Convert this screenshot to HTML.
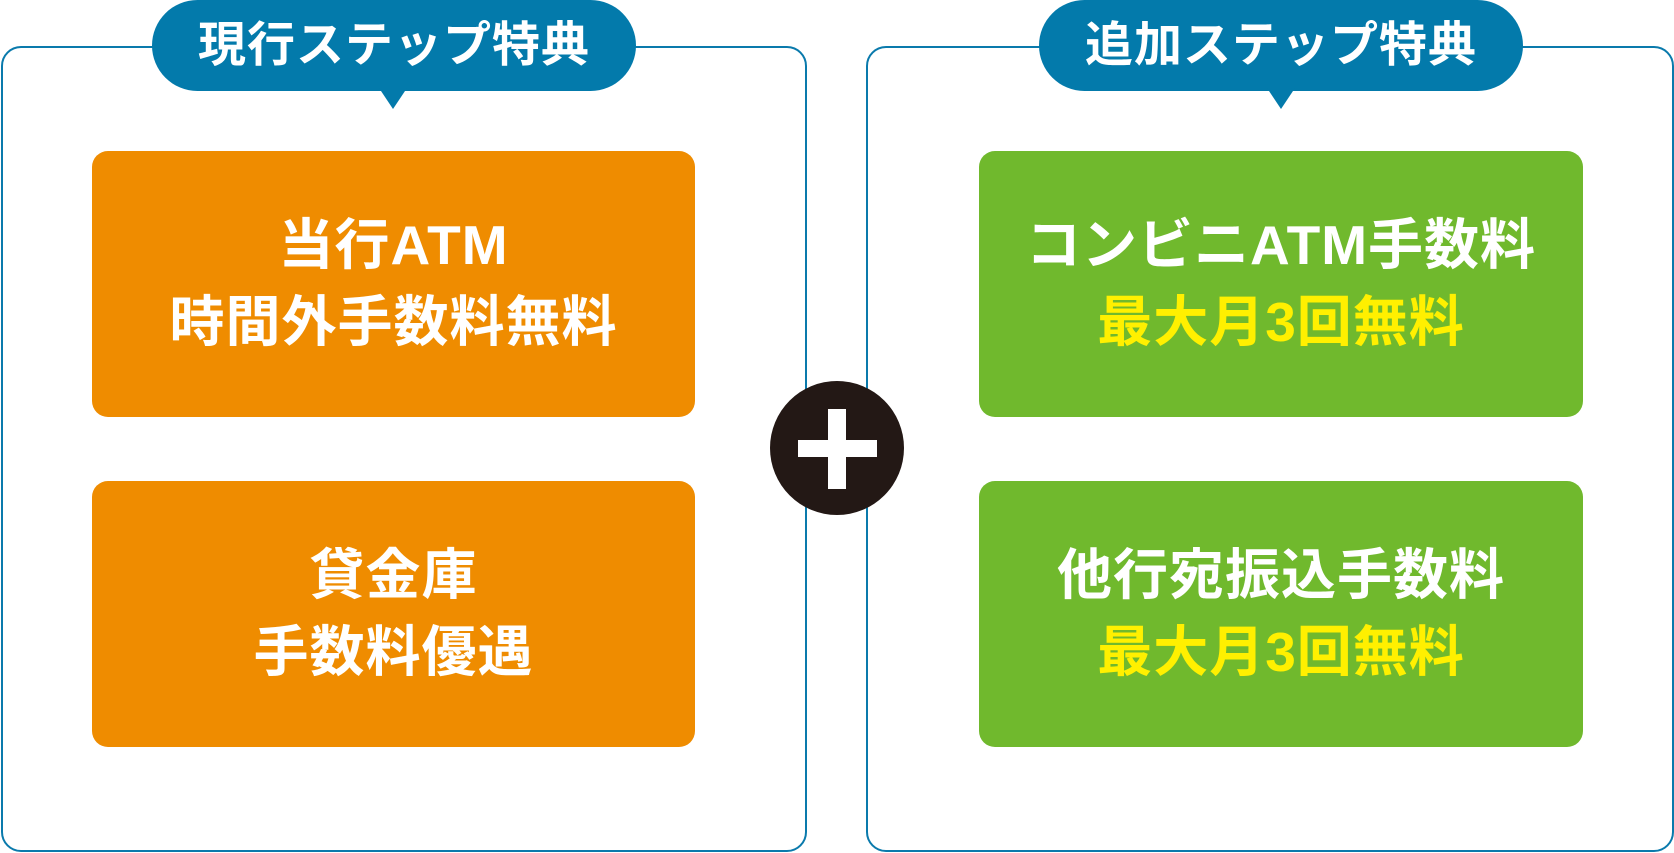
<!DOCTYPE html>
<html><head><meta charset="utf-8"><style>
*{margin:0;padding:0;box-sizing:border-box}
body{width:1674px;height:853px;background:#fff;position:relative;overflow:hidden;font-family:"Liberation Sans","Noto Sans CJK JP",sans-serif;font-weight:bold}
.panel{position:absolute;top:46px;height:806px;border:2.5px solid #0a7aac;border-radius:20px;background:#fff}
.badge{position:absolute;top:0;height:91px;background:#037aab;border-radius:46px;color:#fff;font-size:48px;text-align:center;line-height:91px;letter-spacing:1px}
.tail{position:absolute;top:88px;width:0;height:0;border-left:14px solid transparent;border-right:14px solid transparent;border-top:21px solid #037aab}
.box{position:absolute;height:266px;border-radius:16px;color:#fff;font-size:55px;text-align:center;display:flex;flex-direction:column;justify-content:center;line-height:77px;letter-spacing:1px}
.or{background:#ef8c00}.gr{background:#70b92d}
.y{color:#fff000}
.circle{position:absolute;left:770px;top:381px;width:134px;height:134px;border-radius:50%;background:#231815}
.h{position:absolute;left:798px;top:440px;width:79px;height:17px;background:#fff}
.v{position:absolute;left:828px;top:409px;width:18px;height:80px;background:#fff}
</style></head><body>
<div class="panel" style="left:1px;width:806px"></div>
<div class="panel" style="left:866px;width:808px"></div>
<div class="badge" style="left:152px;width:484px">現行ステップ特典</div>
<div class="tail" style="left:379px"></div>
<div class="badge" style="left:1039px;width:484px">追加ステップ特典</div>
<div class="tail" style="left:1267px"></div>
<div class="box or" style="left:92px;top:151px;width:603px"><div>当行ATM</div><div>時間外手数料無料</div></div>
<div class="box or" style="left:92px;top:481px;width:603px"><div>貸金庫</div><div>手数料優遇</div></div>
<div class="box gr" style="left:979px;top:151px;width:604px"><div>コンビニATM手数料</div><div class="y">最大月3回無料</div></div>
<div class="box gr" style="left:979px;top:481px;width:604px"><div>他行宛振込手数料</div><div class="y">最大月3回無料</div></div>
<div class="circle"></div><div class="h"></div><div class="v"></div>
</body></html>
